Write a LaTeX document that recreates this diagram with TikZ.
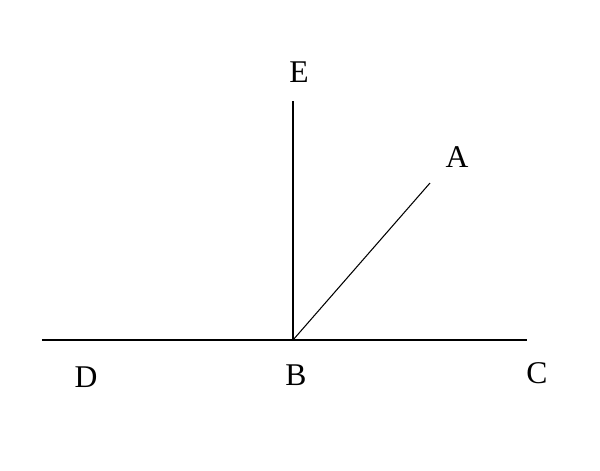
\documentclass[tikz,border=0pt]{standalone}
\usepackage{fontspec}
\setmainfont{Liberation Serif}
\usetikzlibrary{positioning}
\tikzset{
  ray/.style   = { line width=0.6pt, draw=black },
  letter/.style = { font=\fontsize{18}{20}\selectfont, inner sep=0pt }
}
\begin{document}
\begin{tikzpicture}[x=0.02cm, y=-0.02cm]
  \useasboundingbox (0,0) rectangle (600,471);
  \coordinate (b) at (293,340);
  \coordinate (c) at (527,340);
  \coordinate (d) at (42,340);
  \coordinate (e) at (293,101);
  \coordinate (a) at (430,183);

  \node (labelE) [letter] at (299,72)  {E};
  \node (labelA) [letter] at (457,157) {A};
  \node (labelD) [letter] at (86,377)  {D};
  \node (labelB) [letter] at (296,375) {B};
  \node (labelC) [letter] at (537,373) {C};

  \draw [ray] (d) -- (c);
  \draw [ray] (b) -- (e);
  \draw [ray] (b) -- (a);
\end{tikzpicture}
\end{document}
